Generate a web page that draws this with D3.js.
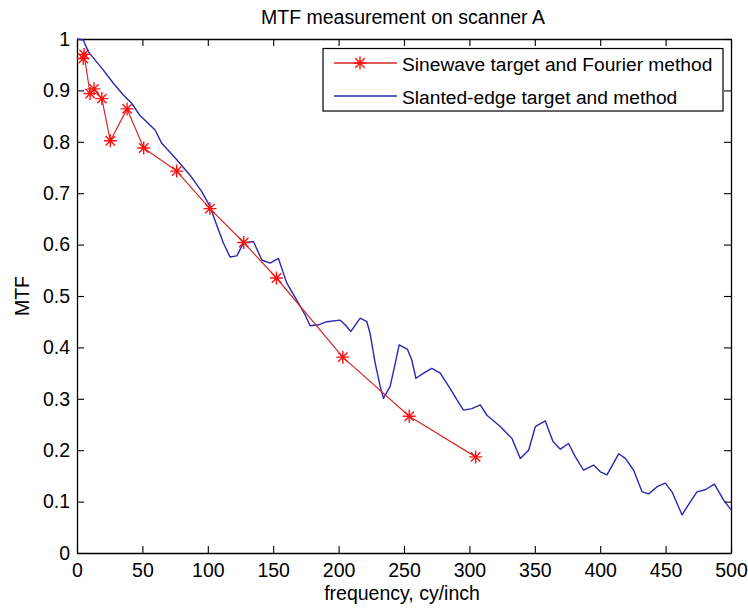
<!DOCTYPE html>
<html>
<head>
<meta charset="utf-8">
<script src="https://cdn.jsdelivr.net/npm/d3@7"></script>
<style>
  html, body { margin: 0; padding: 0; background: #fff; }
  svg { display: block; }
  text { font-family: "Liberation Sans", Arial, sans-serif; fill: #000; }
</style>
</head>
<body>
<svg id="chart" width="748" height="611"></svg>
<script>
// Sinewave target, Fourier method (frequency in cy/inch, MTF)
const sineFreq = [4.8, 5.4, 10.0, 13.0, 19.0, 25.5, 38.3, 51.0, 76.2, 101.6, 127.5, 152.5, 203.2, 254.0, 304.8];
const sineMTF  = [0.962, 0.970, 0.894, 0.903, 0.884, 0.802, 0.864, 0.788, 0.743, 0.670, 0.604, 0.535, 0.381, 0.266, 0.187];

// Slanted-edge target and method
const edgeFreq = [0, 4.8, 8.7, 20, 27.8, 35.4, 41.8, 48.2, 59.7, 64.8, 76.3, 86.4, 95.4, 101.7, 106.5,
  111.9, 117, 122.2, 127.2, 134.9, 141.3, 147.6, 154, 160.4, 168, 174.4, 178.2, 184.6, 191, 201.2,
  205, 209.4, 216.5, 221.6, 224.1, 228, 231.8, 234.3, 239.4, 243.3, 246.3, 252.7, 256, 259.1, 265,
  271.3, 277.7, 285.3, 290.5, 295.5, 301.9, 308.3, 313.4, 323.6, 332.5, 338.9, 345.3, 350.4, 358,
  363.9, 369.5, 375.8, 381, 387.3, 395, 400.1, 405.2, 414.1, 419.2, 425.6, 432, 437.1, 443.5, 449.8,
  454.9, 462.6, 469, 474, 480.4, 487.3, 494.4, 500];
const edgeMTF = [1.0, 0.998, 0.975, 0.940, 0.914, 0.891, 0.875, 0.851, 0.823, 0.797, 0.765, 0.735, 0.703, 0.674, 0.640,
  0.603, 0.576, 0.578, 0.603, 0.606, 0.570, 0.564, 0.573, 0.525, 0.492, 0.463, 0.442, 0.444, 0.450, 0.453,
  0.444, 0.431, 0.457, 0.450, 0.427, 0.369, 0.324, 0.301, 0.324, 0.369, 0.405, 0.396, 0.375, 0.340, 0.350,
  0.359, 0.350, 0.320, 0.298, 0.278, 0.281, 0.288, 0.268, 0.246, 0.223, 0.184, 0.200, 0.246, 0.257,
  0.217, 0.202, 0.213, 0.187, 0.161, 0.171, 0.158, 0.152, 0.193, 0.184, 0.161, 0.119, 0.115, 0.129, 0.136,
  0.119, 0.074, 0.100, 0.119, 0.123, 0.134, 0.103, 0.084];

const xTicks = [0, 50, 100, 150, 200, 250, 300, 350, 400, 450, 500];
const yTicks = [0, 0.1, 0.2, 0.3, 0.4, 0.5, 0.6, 0.7, 0.8, 0.9, 1];
const legendLabels = ["Sinewave target and Fourier method", "Slanted-edge target and method"];

const titleText = "MTF measurement on scanner A";
const xLabelText = "frequency, cy/inch";
const yLabelText = "MTF";

const redLine = "#d42a2a", redMark = "#ff1010", blueLine = "#2828b0";
const fontSize = "19.5px";

const svg = d3.select("#chart");
const plotLeft = 77, plotRight = 731, plotTop = 39, plotBottom = 553;

const x = d3.scaleLinear().domain([0, 500]).range([plotLeft, plotRight]);
const y = d3.scaleLinear().domain([0, 1]).range([plotBottom, plotTop]);

const tickLen = 7;
const fmt = d => d3.format("~g")(d);

// axes with inward ticks on all four sides (box style)
const axisG = svg.append("g");
axisG.append("g").attr("transform", `translate(0,${plotBottom})`)
  .call(d3.axisBottom(x).tickValues(xTicks).tickSize(-tickLen).tickSizeOuter(0).tickPadding(10).tickFormat(fmt));
axisG.append("g").attr("transform", `translate(0,${plotTop})`)
  .call(d3.axisTop(x).tickValues(xTicks).tickSize(-tickLen).tickSizeOuter(0).tickFormat(""));
axisG.append("g").attr("transform", `translate(${plotLeft},0)`)
  .call(d3.axisLeft(y).tickValues(yTicks).tickSize(-tickLen).tickSizeOuter(0).tickPadding(7).tickFormat(fmt));
axisG.append("g").attr("transform", `translate(${plotRight},0)`)
  .call(d3.axisRight(y).tickValues(yTicks).tickSize(-tickLen).tickSizeOuter(0).tickFormat(""));
axisG.selectAll(".domain").attr("stroke", "#000").attr("stroke-width", 1.3);
axisG.selectAll(".tick line").attr("stroke", "#000").attr("stroke-width", 1.1);
axisG.selectAll(".tick text").style("font-size", fontSize)
  .style("font-family", "'Liberation Sans', Arial, sans-serif").attr("fill", "#000");

// plot series
const line = d3.line().x(d => x(d[0])).y(d => y(d[1]));
const edgePts = edgeFreq.map((f, i) => [f, edgeMTF[i]]);
const sinePts = sineFreq.map((f, i) => [f, sineMTF[i]]);

svg.append("path").datum(edgePts).attr("d", line)
  .attr("fill", "none").attr("stroke", blueLine).attr("stroke-width", 1.4).attr("stroke-linejoin", "round");
svg.append("path").datum(sinePts).attr("d", line)
  .attr("fill", "none").attr("stroke", redLine).attr("stroke-width", 1.2).attr("stroke-linejoin", "round");

function asterisk(g, r) {
  const d = r * 0.72;
  g.append("path")
    .attr("d", `M${-r},0H${r}M0,${-r}V${r}M${-d},${-d}L${d},${d}M${-d},${d}L${d},${-d}`)
    .attr("stroke", redMark).attr("stroke-width", 1.4).attr("fill", "none");
}
svg.append("g").selectAll("g.mk").data(sinePts).join("g")
  .attr("class", "mk")
  .attr("transform", d => `translate(${x(d[0])},${y(d[1])})`)
  .each(function () { asterisk(d3.select(this), 6.5); });

// legend
const lg = svg.append("g");
lg.append("rect").attr("x", 323).attr("y", 48.5).attr("width", 400).attr("height", 62.5)
  .attr("fill", "#fff").attr("stroke", "#000").attr("stroke-width", 1.2);
const rows = [
  { label: legendLabels[0], color: redLine, mark: true, yy: 63 },
  { label: legendLabels[1], color: blueLine, mark: false, yy: 96 }
];
rows.forEach(r => {
  lg.append("line").attr("x1", 334).attr("x2", 397).attr("y1", r.yy).attr("y2", r.yy)
    .attr("stroke", r.color).attr("stroke-width", 1.3);
  if (r.mark) asterisk(lg.append("g").attr("transform", `translate(360,${r.yy})`), 6.5);
  lg.append("text").attr("x", 402).attr("y", r.yy + 7.5).style("font-size", "19.2px").text(r.label);
});

// titles
svg.append("text").attr("x", 403).attr("y", 23.5).attr("text-anchor", "middle")
  .style("font-size", fontSize).text(titleText);
svg.append("text").attr("x", 402).attr("y", 600).attr("text-anchor", "middle")
  .style("font-size", fontSize).text(xLabelText);
svg.append("text").attr("transform", "translate(29,296) rotate(-90)").attr("text-anchor", "middle")
  .style("font-size", fontSize).text(yLabelText);
</script>
</body>
</html>
